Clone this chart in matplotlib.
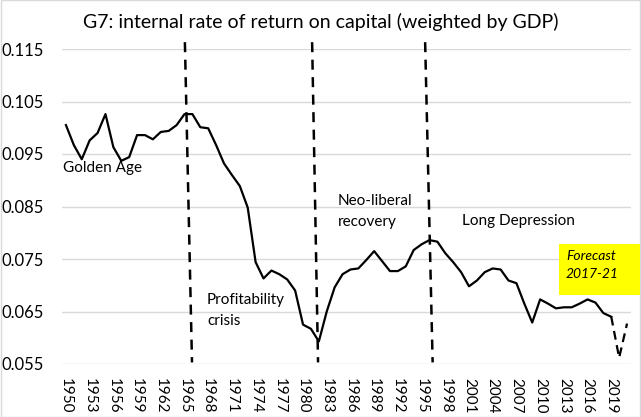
"""G7 internal rate of return on capital (weighted by GDP), 1950-2021."""

import matplotlib.pyplot as plt
from matplotlib.patches import Rectangle

plt.rcParams["font.family"] = ["Lato", "DejaVu Sans"]

YEARS = list(range(1950, 2022))
IRR = [
    0.1005, 0.0967, 0.0940, 0.0976, 0.0990, 0.1026, 0.0963, 0.0937, 0.0944, 0.0986,
    0.0986, 0.0978, 0.0992, 0.0994, 0.1005, 0.1026, 0.1026, 0.1001, 0.0999, 0.0967,
    0.0932, 0.0910, 0.0889, 0.0848, 0.0744, 0.0713, 0.0728, 0.0721, 0.0711, 0.0690,
    0.0625, 0.0617, 0.0593, 0.0650, 0.0696, 0.0721, 0.0730, 0.0732, 0.0748, 0.0765,
    0.0746, 0.0727, 0.0727, 0.0736, 0.0767, 0.0778, 0.0786, 0.0783, 0.0761, 0.0744,
    0.0725, 0.0698, 0.0709, 0.0725, 0.0732, 0.0730, 0.0709, 0.0704, 0.0665, 0.0629,
    0.0673, 0.0665, 0.0656, 0.0658, 0.0658, 0.0665, 0.0673, 0.0667, 0.0647, 0.0640,
    0.0562, 0.0627,
]
LAST_ACTUAL = 2019

# period dividers (slightly slanted, as drawn in the original)
DIVIDER_TOP = [1965.05, 1981.15, 1995.45]
DIVIDER_BOTTOM = [1965.95, 1981.9, 1996.4]

YTICKS = [0.055, 0.065, 0.075, 0.085, 0.095, 0.105, 0.115]
XTICKS = list(range(1950, 2022, 3))

fig = plt.figure(figsize=(6.41, 4.17), dpi=100)
ax = fig.add_axes([62 / 641, 1 - 364 / 417, 569 / 641, 315 / 417])

n_act = YEARS.index(LAST_ACTUAL) + 1
ax.plot(YEARS[:n_act], IRR[:n_act], color="black", lw=1.6, zorder=3)
ax.plot(YEARS[n_act - 1:], IRR[n_act - 1:], color="black", lw=1.6,
        dashes=(4, 2.5), zorder=3)

for x0, x1 in zip(DIVIDER_TOP, DIVIDER_BOTTOM):
    ax.plot([x0, x1], [0.1163, 0.0553], color="black", lw=1.8,
            dashes=(4, 3), clip_on=False, zorder=4)

ax.set_xlim(1949.5, 2021.5)
ax.set_ylim(0.055, 0.115)
ax.set_yticks(YTICKS)
ax.set_yticklabels([f"{v:.3f}" for v in YTICKS], fontsize=12)
ax.set_xticks(XTICKS)
ax.set_xticklabels([str(y) for y in XTICKS], rotation=270, fontsize=11)
ax.tick_params(length=0)
ax.tick_params(axis="x", pad=10)
ax.tick_params(axis="y", pad=13)
ax.grid(axis="y", color="#d9d9d9", lw=1)
ax.set_axisbelow(True)
for s in ax.spines.values():
    s.set_visible(False)

ax.text(1949.6, 0.0923, "Golden Age", fontsize=11, va="center")
ax.text(1967.85, 0.0652, "Profitability\ncrisis", fontsize=11, va="center",
        linespacing=1.6)
ax.text(1984.4, 0.0841, "Neo-liberal\nrecovery", fontsize=11, va="center",
        linespacing=1.6)
ax.text(2000.1, 0.0822, "Long Depression", fontsize=11, va="center")

box = Rectangle((559 / 641, 1 - 295 / 417), 81 / 641, 51 / 417,
                transform=fig.transFigure, facecolor="#ffff00",
                edgecolor="none", zorder=5)
fig.patches.append(box)
fig.text(566 / 641, 1 - 265 / 417, "Forecast\n2017-21", fontsize=10,
         style="italic", va="center", linespacing=1.5, zorder=6)

fig.suptitle("G7: internal rate of return on capital (weighted by GDP)",
             x=0.5, y=1 - 22 / 417, va="center", fontsize=14)

border = Rectangle((0.001, 0.001), 0.998, 0.998, transform=fig.transFigure,
                   facecolor="none", edgecolor="#d9d9d9", lw=1)
fig.patches.append(border)

fig.savefig("out.png", dpi=100)
